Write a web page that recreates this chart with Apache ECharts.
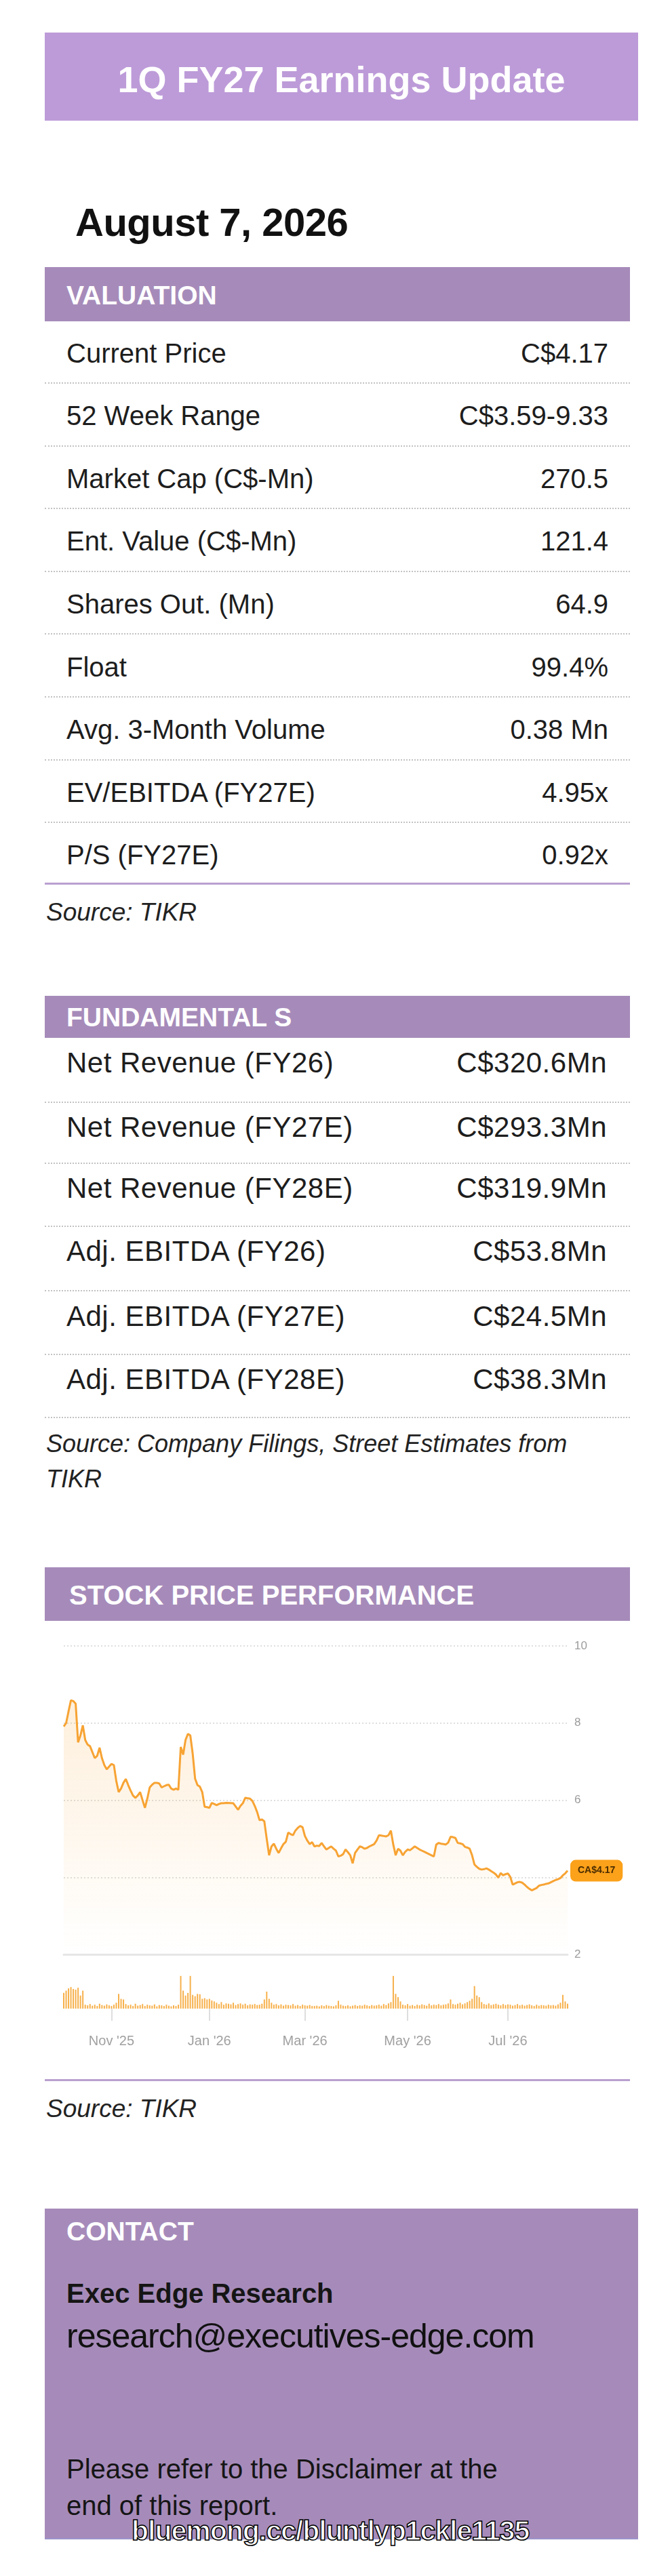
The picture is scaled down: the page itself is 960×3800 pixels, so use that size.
<!DOCTYPE html>
<html>
<head>
<meta charset="utf-8">
<script src="https://cdn.jsdelivr.net/npm/echarts@6/dist/echarts.min.js"></script>
<style>
html,body{margin:0;padding:0;background:#fff;}
#page{position:relative;width:960px;height:3800px;overflow:hidden;font-family:"Liberation Sans",Arial,Helvetica,sans-serif;color:#1d1d1d;}
.abs{position:absolute;white-space:nowrap;}
.box{position:absolute;}
.dots{position:absolute;left:66px;width:863px;height:0;border-top:2px dotted #c2c2c2;}
.rule{position:absolute;left:66px;width:863px;height:3px;background:#B9A0D0;}
#chart{position:absolute;left:0;top:2400px;width:960px;height:660px;}
</style>
</head>
<body>
<div id="page">
  <div class="box" style="left:66px;top:48px;width:875px;height:130px;background:#BD9BD8;"></div>
  <div class="box" style="left:66px;top:394px;width:863px;height:80px;background:#A68BBA;"></div>
  <div class="box" style="left:66px;top:1469px;width:863px;height:62px;background:#A68BBA;"></div>
  <div class="box" style="left:66px;top:2312px;width:863px;height:79px;background:#A68BBA;"></div>
  <div class="box" style="left:66px;top:3258px;width:875px;height:486px;background:#A68BBA;border-bottom:2px solid #9b93cc;"></div>
  <div id="chart"></div>
</div>
<script>
// ---------- text data ----------
const titleText = "1Q FY27 Earnings Update";
const dateText = "August 7, 2026";
const valLabels = ["Current Price","52 Week Range","Market Cap (C$-Mn)","Ent. Value (C$-Mn)","Shares Out. (Mn)","Float","Avg. 3-Month Volume","EV/EBITDA (FY27E)","P/S (FY27E)"];
const valValues = ["C$4.17","C$3.59-9.33","270.5","121.4","64.9","99.4%","0.38 Mn","4.95x","0.92x"];
const fundLabels = ["Net Revenue (FY26)","Net Revenue (FY27E)","Net Revenue (FY28E)","Adj. EBITDA (FY26)","Adj. EBITDA (FY27E)","Adj. EBITDA (FY28E)"];
const fundValues = ["C$320.6Mn","C$293.3Mn","C$319.9Mn","C$53.8Mn","C$24.5Mn","C$38.3Mn"];

// ---------- chart data ----------
// trading days (TSX) from Oct 3 2025 to Aug 7 2026
const firstDay = "2025-10-03";
const lastDay = "2026-08-07";
const holidays = ["2025-10-13","2025-12-25","2025-12-26","2026-01-01","2026-02-16","2026-04-03","2026-05-18","2026-07-01","2026-08-03"];
const tickDates = ["2025-11-03","2026-01-02","2026-03-02","2026-05-01","2026-07-02"];
const tickLabels = ["Nov '25","Jan '26","Mar '26","May '26","Jul '26"];
const priceTicks = [2, 10, 2]; // min, max, interval

// closing price readings per trading day (null = not read, line connects)
const price = [
 7.91,8.0,8.3,8.59,8.57,8.5,7.5,7.68,7.94,7.56,
 7.44,7.4,null,7.09,7.15,7.36,7.09,6.91,6.8,null,
 6.94,6.91,6.5,6.21,6.3,6.45,6.55,6.39,6.25,6.12,
 6.06,6.12,6.21,6.0,5.8,6.04,6.33,6.4,6.45,6.45,
 6.43,6.33,6.36,6.39,6.4,6.3,6.27,6.3,6.27,7.38,
 7.18,7.56,7.72,7.68,7.21,6.56,6.39,6.35,6.21,5.83,
 5.82,5.8,5.93,5.9,5.87,5.9,5.92,5.92,5.93,null,
 null,5.92,null,5.75,5.85,5.92,6.06,6.05,6.04,5.98,
 5.85,5.69,5.48,5.5,5.45,5.0,4.57,4.8,4.87,4.74,
 4.63,4.75,4.86,4.92,5.16,5.12,5.09,5.21,5.28,5.33,
 5.3,5.07,4.95,4.86,4.91,4.8,4.82,4.81,4.89,4.8,
 4.72,4.76,4.8,4.74,4.69,4.54,4.56,4.6,4.72,4.65,
 4.57,4.36,4.63,4.72,4.8,4.78,4.74,4.76,4.8,4.83,
 4.86,4.95,5.09,5.08,5.07,5.06,5.09,5.21,4.85,4.57,
 4.74,4.69,4.57,4.66,4.72,4.7,4.75,4.8,4.76,4.72,
 4.69,4.66,4.63,4.6,4.57,4.54,4.85,4.89,4.87,4.86,
 4.85,4.9,5.05,5.04,5.02,4.89,4.88,4.86,4.79,4.77,
 4.74,4.57,4.33,4.27,4.22,4.2,4.21,4.23,4.2,4.16,
 4.12,4.07,3.99,4.11,4.05,4.08,4.1,4.01,3.81,3.84,
 3.87,3.88,3.86,3.81,3.75,3.7,3.66,3.69,3.72,3.78,
 3.8,3.81,3.83,3.84,3.87,3.9,3.93,3.95,3.98,4.05,
 4.1,4.17
];

// relative daily volume readings (peak = 100)
const volume = [
 48,55,62,66,60,58,64,40,55,
 12,10,14,9,12,8,15,11,9,13,10,8,12,
 18,45,30,28,14,
 10,12,8,15,9,11,14,8,12,10,9,13,7,11,10,8,12,9,7,10,8,12,
 100,55,40,48,100,42,38,45,44,30,32,28,30,25,22,
 18,14,20,12,16,15,13,18,11,14,16,12,15,10,13,12,14,11,12,15,
 28,52,30,18,
 12,14,10,13,9,12,11,10,14,9,11,8,12,10,9,11,8,
 8,9,7,10,8,11,9,8,7,10,24,12,9,8,10,7,9,11,8,10,9,12,10,8,11,9,10,12,9,14,11,16,20,
 100,45,35,22,
 12,10,14,9,11,8,12,10,13,11,9,15,10,12,11,14,10,12,13,16,28,14,12,15,18,13,16,20,24,
 30,69,40,35,20,
 14,12,16,11,13,15,12,10,14,11,13,12,9,11,14,10,12,9,11,13,10,8,12,9,11,10,9,12,10,11,9,13,
 18,42,22,15
];

// ---------- build trading-day categories ----------
function pad(n){return (n<10?'0':'')+n;}
function buildDays(){
  const out=[]; const d=new Date(firstDay+'T12:00:00Z'); const end=new Date(lastDay+'T12:00:00Z');
  while(d<=end){
    const wd=d.getUTCDay();
    const s=d.getUTCFullYear()+'-'+pad(d.getUTCMonth()+1)+'-'+pad(d.getUTCDate());
    if(wd!==0&&wd!==6&&holidays.indexOf(s)<0) out.push(s);
    d.setUTCDate(d.getUTCDate()+1);
  }
  return out;
}
const dates = buildDays();

// ---------- text layout ----------
const page=document.getElementById('page');
function txt(s,opt){
  const el=document.createElement('div'); el.className='abs'; el.textContent=s;
  const size=opt.size, lh=Math.round(size*1.12);
  el.style.fontSize=size+'px'; el.style.lineHeight=lh+'px'; el.style.height=lh+'px';
  el.style.top=(opt.cy-lh/2)+'px';
  if(opt.right!==undefined){el.style.right=(960-opt.right)+'px';el.style.textAlign='right';}
  else el.style.left=opt.x+'px';
  if(opt.bold) el.style.fontWeight='bold';
  if(opt.italic) el.style.fontStyle='italic';
  if(opt.color) el.style.color=opt.color;
  if(opt.ls!==undefined) el.style.letterSpacing=opt.ls+'px';
  if(opt.css) Object.assign(el.style,opt.css);
  page.appendChild(el); return el;
}
function line(cls,y){const el=document.createElement('div');el.className=cls;el.style.top=y+'px';page.appendChild(el);}

// title
txt(titleText,{x:0,cy:117,size:54,bold:true,color:'#fff',css:{left:'66px',width:'875px',textAlign:'center'}});
txt(dateText,{x:111,cy:327,size:58,bold:true,color:'#111',ls:-0.5});
// valuation
txt("VALUATION",{x:98,cy:436,size:39,bold:true,color:'#fff'});
valLabels.forEach((l,i)=>{
  const cy=521+92.6*i;
  txt(l,{x:98,cy:cy,size:40});
  txt(valValues[i],{right:897,cy:cy,size:40});
  if(i<valLabels.length-1) line('dots',Math.round(cy+43));
});
line('rule',1302);
txt("Source: TIKR",{x:68,cy:1345,size:37,italic:true,color:'#222'});
// fundamentals
txt("FUNDAMENTAL S",{x:98,cy:1501,size:39,bold:true,color:'#fff'});
const fundCy=[1567,1662,1752,1845,1941,2034];
const fundSep=[1625,1715,1808,1903,1997,2090];
fundLabels.forEach((l,i)=>{
  txt(l,{x:98,cy:fundCy[i],size:42,ls:0.5});
  txt(fundValues[i],{right:895,cy:fundCy[i],size:42,ls:0.5});
  line('dots',fundSep[i]);
});
txt("Source: Company Filings, Street Estimates from",{x:68,cy:2130,size:36,italic:true,color:'#222'});
txt("TIKR",{x:68,cy:2182,size:36,italic:true,color:'#222'});
// stock price performance
txt("STOCK PRICE PERFORMANCE",{x:102,cy:2353,size:40,bold:true,color:'#fff'});
line('rule',3067);
txt("Source: TIKR",{x:68,cy:3110,size:37,italic:true,color:'#222'});
// contact
txt("CONTACT",{x:98,cy:3292,size:39,bold:true,color:'#fff'});
txt("Exec Edge Research",{x:98,cy:3383,size:40,bold:true,color:'#151515'});
txt("research@executives-edge.com",{x:98,cy:3446,size:50,color:'#111',ls:-1});
txt("Please refer to the Disclaimer at the",{x:98,cy:3642,size:40,color:'#151515'});
txt("end of this report.",{x:98,cy:3696,size:40,color:'#151515'});
txt("bluemong.cc/bluntlyp1ckle1135",{x:194,cy:3733,size:41,color:'#fff',css:{webkitTextStroke:'1.5px #000',fontWeight:'bold',letterSpacing:'-1px'}});

// ---------- chart ----------
const chart=echarts.init(document.getElementById('chart'),null,{renderer:'canvas'});
const isTick=(i,v)=>tickDates.indexOf(v)>=0;
chart.setOption({
  animation:false,
  grid:[
    {left:94,right:123,top:28,height:455},
    {left:94,right:123,top:510,height:53}
  ],
  xAxis:[
    {type:'category',gridIndex:0,data:dates,boundaryGap:false,
     axisLine:{show:true,lineStyle:{color:'#e6e6e6',width:3}},
     axisTick:{show:false},axisLabel:{show:false},splitLine:{show:false}},
    {type:'category',gridIndex:1,data:dates,boundaryGap:false,
     axisLine:{show:false},
     axisTick:{show:true,interval:isTick,length:18,lineStyle:{color:'#d4d4d4',width:1.5}},
     axisLabel:{show:true,interval:isTick,formatter:v=>tickLabels[tickDates.indexOf(v)]||'',
       color:'#a0a0a0',fontSize:20,margin:38,fontFamily:'Liberation Sans, Arial, sans-serif'},
     splitLine:{show:false}}
  ],
  yAxis:[
    {type:'value',gridIndex:0,position:'right',min:priceTicks[0],max:priceTicks[1],interval:priceTicks[2],
     axisLine:{show:false},axisTick:{show:false},
     axisLabel:{color:'#9c9c9c',fontSize:17,margin:10,fontFamily:'Liberation Sans, Arial, sans-serif'},
     splitLine:{show:true,lineStyle:{color:'#dedede',width:2,type:[2,3]}}},
    {type:'value',gridIndex:1,min:0,max:110,show:false,splitLine:{show:false}}
  ],
  series:[
    {type:'line',name:'Price',xAxisIndex:0,yAxisIndex:0,data:price,connectNulls:true,
     showSymbol:false,symbol:'none',smooth:false,
     lineStyle:{color:'#F7A333',width:3},
     areaStyle:{color:new echarts.graphic.LinearGradient(0,0,0,1,[
       {offset:0,color:'rgba(248,168,60,0.26)'},
       {offset:1,color:'rgba(248,168,60,0.0)'}])},
     endLabel:{show:true,distance:4,formatter:p=>'CA$'+Number(p.value).toFixed(2),
       backgroundColor:'#FBA11A',borderRadius:8,padding:[9,11],
       color:'#4a2c00',fontSize:14,fontWeight:'bold',fontFamily:'Liberation Sans, Arial, sans-serif'},
     z:3},
    {type:'bar',name:'Volume',xAxisIndex:1,yAxisIndex:1,data:volume,barWidth:2,
     itemStyle:{color:'#F7B04B'}}
  ]
});
</script>
</body>
</html>
